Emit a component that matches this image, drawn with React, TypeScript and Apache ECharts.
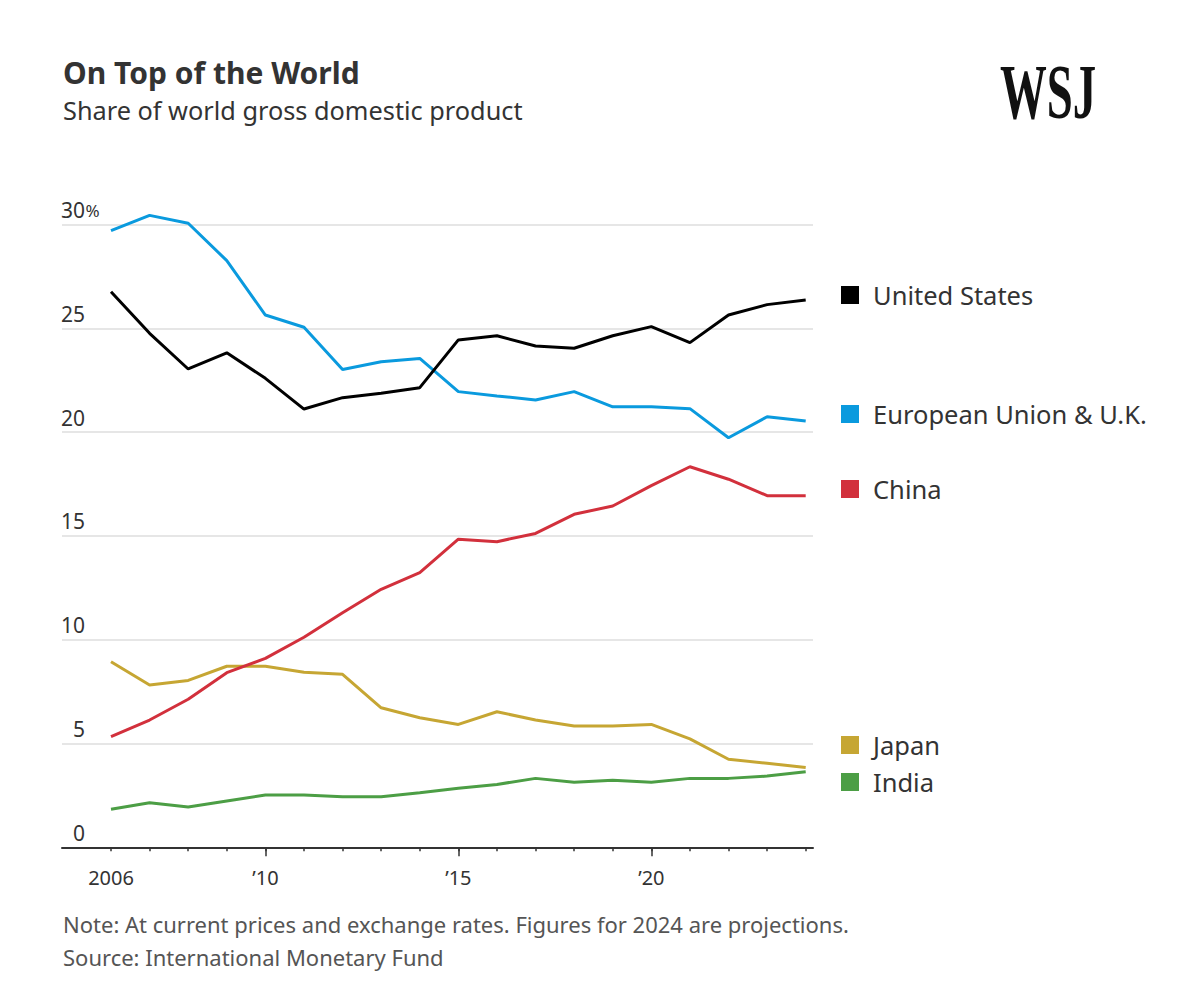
import React, { useEffect, useRef } from "react";
import * as echarts from "echarts";

const years = ["2006","2007","2008","2009","2010","2011","2012","2013","2014","2015","2016","2017","2018","2019","2020","2021","2022","2023","2024"];
const unitedStates = [26.76,24.76,23.04,23.82,22.59,21.11,21.66,21.87,22.14,24.44,24.64,24.15,24.04,24.64,25.08,24.31,25.64,26.14,26.36];
const euUk = [29.7,30.44,30.06,28.26,25.64,25.05,23.02,23.39,23.55,21.95,21.74,21.55,21.95,21.22,21.22,21.13,19.73,20.74,20.53];
const china = [5.33,6.13,7.13,8.41,9.1,10.12,11.3,12.43,13.23,14.84,14.72,15.12,16.04,16.44,17.42,18.33,17.73,16.94,16.94];
const japan = [8.94,7.82,8.04,8.72,8.72,8.43,8.33,6.72,6.24,5.92,6.53,6.13,5.84,5.84,5.92,5.22,4.24,4.05,3.84];
const india = [1.83,2.15,1.94,2.23,2.52,2.52,2.44,2.44,2.63,2.84,3.03,3.32,3.13,3.23,3.13,3.32,3.32,3.43,3.64];
const seriesNames = ["United States", "European Union & U.K.", "China", "Japan", "India"];
const yTicks = [0, 5, 10, 15, 20, 25, 30];
const labeledYears = ["2006", "2010", "2015", "2020"];
const majorYears = ["2010", "2015", "2020"];

const colors = ["#000000", "#0a9ade", "#d2303c", "#c6a633", "#4c9e45"];
const FONT = "'Noto Sans', sans-serif";

export default function App() {
  const ref = useRef<HTMLDivElement>(null);
  useEffect(() => {
    if (!ref.current) return;
    const chart = echarts.init(ref.current, null, { renderer: "svg" });
    const dataSets = [unitedStates, euUk, china, japan, india];
    const legendY = [295, 414, 489, 745, 782];
    const option: any = {
      animation: false,
      backgroundColor: "#ffffff",
      textStyle: { fontFamily: FONT },
      grid: [
        { left: 62, right: 387, top: 224.5, bottom: 148.7, containLabel: false },
        { left: 111, right: 394.3, top: 224.5, bottom: 148.7, containLabel: false },
      ],
      xAxis: [
        {
          type: "value", gridIndex: 0, min: 0, max: 1, position: "bottom",
          axisLine: { show: true, onZero: false, lineStyle: { color: "#333", width: 2 } },
          axisTick: { show: false }, axisLabel: { show: false }, splitLine: { show: false },
        },
        {
          type: "category", gridIndex: 1, data: years, boundaryGap: false, position: "bottom",
          axisLine: { show: false },
          axisTick: { show: true, length: 4, lineStyle: { color: "#333", width: 1.5 }, interval: 0 },
          axisLabel: {
            show: true, margin: 20, fontSize: 20, color: "#333", fontFamily: FONT,
            interval: (i: number, v: string) => labeledYears.includes(v),
            formatter: (v: string) => (v === "2006" ? v : "\u2019" + v.slice(2)),
          },
          splitLine: { show: false },
        },
        {
          type: "category", gridIndex: 1, data: years, boundaryGap: false, position: "bottom",
          axisLine: { show: false },
          axisTick: { show: true, length: 9, lineStyle: { color: "#333", width: 1.5 },
            interval: (i: number, v: string) => majorYears.includes(v) },
          axisLabel: { show: false }, splitLine: { show: false },
        },
      ],
      yAxis: [
        {
          type: "value", gridIndex: 0, min: 0, max: 30, interval: 5,
          axisLine: { show: false }, axisTick: { show: false },
          splitLine: { show: true, lineStyle: { color: "#dedede", width: 1.5 } },
          axisLabel: {
            show: true, inside: true, margin: 38, align: "right", verticalAlign: "bottom",
            fontSize: 21, color: "#333", fontFamily: FONT, padding: [0, 0, 4, 0],
            formatter: (v: number) => (yTicks.includes(v) ? (v === 30 ? `${v}{p|%}` : `${v}{p|\u00a0}`) : ""),
            rich: { p: { width: 15, fontSize: 17, color: "#333", fontFamily: FONT, align: "left" } },
          },
        },
        { type: "value", gridIndex: 1, min: 0, max: 30, show: false },
      ],
      series: dataSets.map((d, i) => ({
        name: seriesNames[i], type: "line", xAxisIndex: 1, yAxisIndex: 1, data: d,
        showSymbol: false, symbol: "none", clip: false, lineStyle: { color: colors[i], width: 3 },
        itemStyle: { color: colors[i] }, z: 10 - i,
      })),
      graphic: [
        { type: "text", left: 63, top: 57, style: { text: "On Top of the World", fontFamily: FONT, fontSize: 30, fontWeight: "bold", fill: "#333" } },
        { type: "text", left: 63, top: 97, style: { text: "Share of world gross domestic product", fontFamily: FONT, fontSize: 25.3, fill: "#333" } },
        { type: "text", x: 1000, y: 131, scaleX: 0.6, style: { text: "WSJ", fontFamily: "'Liberation Serif', serif", fontSize: 78, fontWeight: "bold", fill: "#111", textVerticalAlign: "bottom" } },
        { type: "text", left: 63, top: 913, style: { text: "Note: At current prices and exchange rates. Figures for 2024 are projections.", fontFamily: FONT, fontSize: 22, fill: "#555" } },
        { type: "text", left: 63, top: 946, style: { text: "Source: International Monetary Fund", fontFamily: FONT, fontSize: 22, fill: "#555" } },
        ...seriesNames.flatMap((name, i) => [
          { type: "rect", shape: { x: 841, y: legendY[i] - 9, width: 18, height: 18 }, style: { fill: colors[i] } },
          { type: "text", x: 873, y: legendY[i], style: { text: name, fontFamily: FONT, fontSize: 25.5, fill: "#333", textVerticalAlign: "middle" } },
        ]),
      ],
    };
    chart.setOption(option);
    return () => chart.dispose();
  }, []);
  return <div ref={ref} style={{ position: "absolute", left: 0, top: 0, width: 1200, height: 996 }} />;
}
